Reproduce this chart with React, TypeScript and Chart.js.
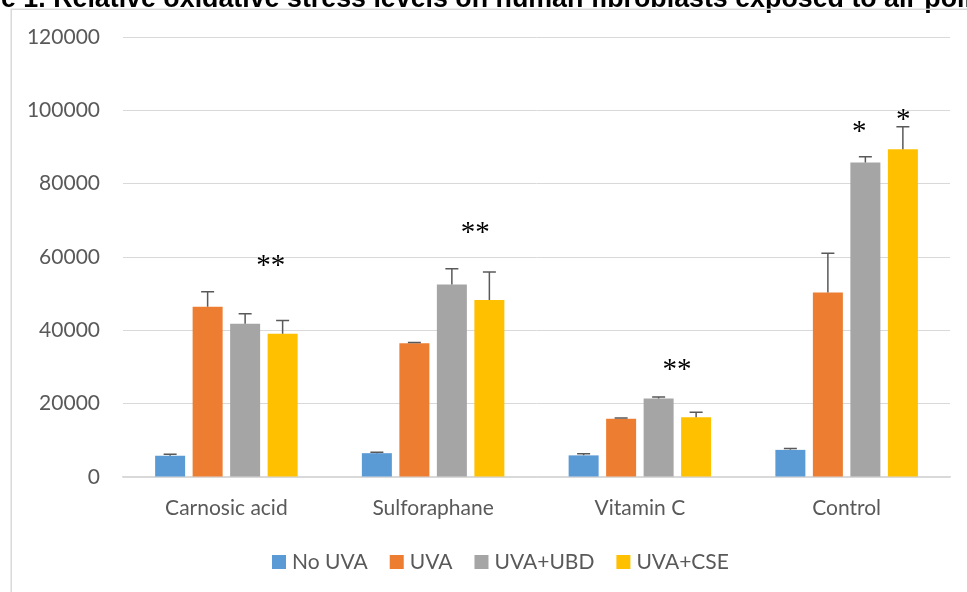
import { useEffect, useRef } from "react";
import { Chart, registerables } from "chart.js";

Chart.register(...registerables);

// Oxidative stress readings per treatment, with upward SD error bars
const categories = ["Carnosic acid", "Sulforaphane", "Vitamin C", "Control"];
const seriesNames = ["No UVA", "UVA", "UVA+UBD", "UVA+CSE"];
const noUva = [5800, 6500, 5900, 7400];
const uva = [46400, 36500, 15900, 50300];
const uvaUbd = [41800, 52500, 21400, 85800];
const uvaCse = [39100, 48300, 16300, 89400];
const noUvaErr = [400, 250, 450, 350];
const uvaErr = [4100, 200, 200, 10700];
const uvaUbdErr = [2700, 4300, 450, 1550];
const uvaCseErr = [3550, 7600, 1350, 6100];
const yTicks = [0, 20000, 40000, 60000, 80000, 100000, 120000];
const titleText =
  "Figure 1. Relative oxidative stress levels on human fibroblasts exposed to air pollutants";

const seriesColors = ["#5B9BD5", "#ED7D31", "#A5A5A5", "#FFC000"];
const seriesValues = [noUva, uva, uvaUbd, uvaCse];
const seriesErrors = [noUvaErr, uvaErr, uvaUbdErr, uvaCseErr];

// Significance markers, placed in axis units (category index, value)
const significance = [
  { text: "**", cat: 0.215, value: 58900 },
  { text: "**", cat: 1.204, value: 67900 },
  { text: "**", cat: 2.18, value: 30500 },
  { text: "*", cat: 3.061, value: 95450 },
  { text: "*", cat: 3.274, value: 98700 },
];

const TEXT_COLOR = "#595959";
const GRID_COLOR = "#D9D9D9";
const LABEL_FONT = "Lato";
const LABEL_SIZE = 21;

const decorPlugin = {
  id: "decor",
  beforeDraw(chart: any) {
    const ctx = chart.ctx;
    ctx.save();
    ctx.fillStyle = "#ffffff";
    ctx.fillRect(0, 0, chart.width, chart.height);
    // caption running along the top edge
    ctx.font = "bold 26.8px 'Liberation Sans'";
    ctx.fillStyle = "#000000";
    ctx.textBaseline = "alphabetic";
    const lead = ctx.measureText("Figur").width;
    ctx.fillText(titleText, 1 - lead, 7);
    // chart frame
    ctx.strokeStyle = GRID_COLOR;
    ctx.lineWidth = 1.5;
    ctx.strokeRect(11.25, 9.25, 3000, 3000);
    ctx.restore();
  },
  afterDatasetsDraw(chart: any) {
    const ctx = chart.ctx;
    const y = chart.scales.y;
    const x = chart.scales.x;
    ctx.save();
    // error bars (plus direction only)
    ctx.strokeStyle = "#595959";
    ctx.lineWidth = 1.5;
    chart.data.datasets.forEach((ds: any, di: number) => {
      const meta = chart.getDatasetMeta(di);
      meta.data.forEach((bar: any, i: number) => {
        const v = ds.data[i];
        const e = seriesErrors[di][i];
        const top = y.getPixelForValue(v + e);
        ctx.beginPath();
        ctx.moveTo(bar.x, bar.y);
        ctx.lineTo(bar.x, top);
        ctx.moveTo(bar.x - 6.5, top);
        ctx.lineTo(bar.x + 6.5, top);
        ctx.stroke();
      });
    });
    // significance asterisks
    const fs = 29;
    ctx.font = `${fs}px 'Liberation Serif'`;
    ctx.fillStyle = "#000000";
    ctx.textAlign = "center";
    ctx.textBaseline = "alphabetic";
    significance.forEach((s) => {
      const px = x.getPixelForValue(s.cat);
      const py = y.getPixelForValue(s.value);
      ctx.fillText(s.text, px, py + fs * 0.45);
    });
    // legend
    ctx.font = `${LABEL_SIZE}px ${LABEL_FONT}`;
    ctx.textAlign = "left";
    ctx.textBaseline = "middle";
    let lx = 272;
    const ly = 562;
    seriesNames.forEach((name, i) => {
      ctx.fillStyle = seriesColors[i];
      ctx.fillRect(lx, ly - 7, 14, 14);
      ctx.fillStyle = TEXT_COLOR;
      ctx.fillText(name, lx + 20, ly);
      lx += 20 + ctx.measureText(name).width + 22;
    });
    ctx.restore();
  },
};

export default function App() {
  const ref = useRef<HTMLCanvasElement | null>(null);

  useEffect(() => {
    if (!ref.current) return;
    const chart = new Chart(ref.current, {
      type: "bar",
      data: {
        labels: categories,
        datasets: seriesNames.map((name, i) => ({
          label: name,
          data: seriesValues[i],
          backgroundColor: seriesColors[i],
          borderWidth: 0,
          barPercentage: 0.8,
          categoryPercentage: 0.7255,
        })),
      },
      options: {
        responsive: false,
        animation: false,
        layout: { padding: { top: 37, right: 17, left: 0, bottom: 0 } },
        plugins: {
          legend: { display: false },
          tooltip: { enabled: false },
        },
        scales: {
          x: {
            grid: { display: false, drawTicks: false },
            border: { display: true, color: GRID_COLOR, width: 1.5 },
            ticks: {
              color: TEXT_COLOR,
              font: { family: LABEL_FONT, size: LABEL_SIZE },
              padding: 19,
              maxRotation: 0,
            },
            afterFit(scale: any) {
              scale.height = 115;
            },
          },
          y: {
            min: 0,
            max: 120000,
            afterBuildTicks(scale: any) {
              scale.ticks = yTicks.map((v) => ({ value: v }));
            },
            grid: { color: GRID_COLOR, lineWidth: 1, drawTicks: false },
            border: { display: false },
            ticks: {
              color: TEXT_COLOR,
              font: { family: LABEL_FONT, size: LABEL_SIZE },
              padding: 23,
              callback: (v: any) => String(v),
            },
            afterFit(scale: any) {
              scale.width = 123;
            },
          },
        },
      },
      plugins: [decorPlugin],
    });
    return () => chart.destroy();
  }, []);

  return (
    <div style={{ position: "absolute", left: 0, top: 0, width: 967, height: 592, overflow: "hidden" }}>
      <canvas ref={ref} width={967} height={592} style={{ display: "block" }} />
    </div>
  );
}
